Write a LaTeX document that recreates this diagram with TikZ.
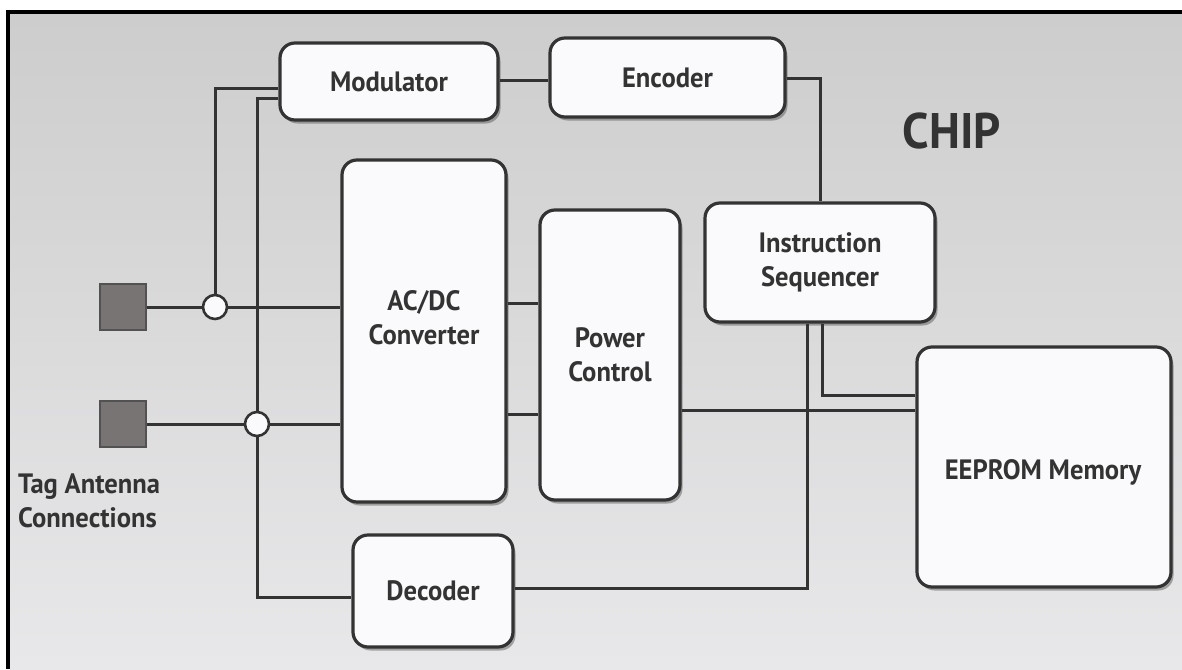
\documentclass[tikz,border=0pt]{standalone}
\usepackage{fontspec}
\setmainfont{PT Sans}[FakeStretch=0.95]
\usetikzlibrary{shadows}
\definecolor{bgtop}{HTML}{CDCDCD}
\definecolor{bgbot}{HTML}{E8E8EA}
\definecolor{ink}{HTML}{333333}
\definecolor{boxfill}{HTML}{FAFAFC}
\definecolor{padfill}{HTML}{787474}
\newcommand\labelfont{\fontsize{28}{34}\selectfont\bfseries}
\newcommand\chipfont{\fontsize{50}{54}\selectfont\bfseries}
\begin{document}
\begin{tikzpicture}[x=1pt,y=-1pt,
  blk/.style={rectangle, draw=ink, line width=3.2pt, fill=boxfill, rounded corners=15pt,
    inner sep=0pt, align=center, text=ink, font=\labelfont,
    drop shadow={shadow xshift=2.5pt, shadow yshift=-3.5pt, opacity=0.45, fill=black!70}},
  wire/.style={draw=ink, line width=3pt},
  pad/.style={rectangle, draw=ink!85, line width=1.8pt, fill=padfill, minimum size=46pt, inner sep=0pt},
  junc/.style={circle, draw=ink, line width=2.6pt, fill=boxfill, minimum size=24pt, inner sep=0pt},
  lbl/.style={text=ink, font=\labelfont, align=center, inner sep=0pt}]
% canvas
\fill[white] (0,0) rectangle (1182,669);
\useasboundingbox (0,0) rectangle (1182,669);
\shade[top color=bgtop, bottom color=bgbot] (10,14) rectangle (1182,669);
\fill[black] (6,10) rectangle (1182,14);
\fill[black] (6,10) rectangle (10,669);
% blocks
\node[blk, minimum width=218pt, minimum height=77pt] (mod) at (389,81.5) {Modulator};
\node[blk, minimum width=235pt, minimum height=79pt] (enc) at (667.5,77.5) {Encoder};
\node[blk, minimum width=164pt, minimum height=342pt] (acdc) at (424,331) {};
\node[lbl] (acdctxt) at (424,318) {AC/DC\\Converter};
\node[blk, minimum width=140pt, minimum height=290pt] (pc) at (610,355) {Power\\Control};
\node[blk, minimum width=230pt, minimum height=119pt] (is) at (820,262.5) {Instruction\\Sequencer};
\node[blk, minimum width=254pt, minimum height=240pt] (eep) at (1044,467) {};
\node[lbl] (eeptxt) at (1043,472) {EEPROM Memory};
\node[blk, minimum width=160pt, minimum height=112pt] (dec) at (433,591) {Decoder};
% antenna pads and junctions
\node[pad] (sq1) at (123,307) {};
\node[pad] (sq2) at (123,424) {};
\node[junc] (c1) at (215,307) {};
\node[junc] (c2) at (257,424) {};
% labels
\node[text=ink, font=\chipfont, inner sep=0pt] (chip) at (952,131) {CHIP};
\node[text=ink, font=\labelfont, align=left, anchor=north west, inner sep=0pt] (tag) at (18,474) {Tag Antenna\\Connections};
% wires
\draw[wire] (sq1.east) -- (c1.west);
\draw[wire] (c1.east) -- (acdc.west |- c1.east);
\draw[wire] (c1.north) |- (mod.west |- 0,88);
\draw[wire] (mod.west |- 0,98) -| (c2.north);
\draw[wire] (c2.south) |- (dec.west |- 0,597);
\draw[wire] (sq2.east) -- (c2.west);
\draw[wire] (c2.east) -- (acdc.west |- c2.east);
\draw[wire] (acdc.east |- 0,303) -- (pc.west |- 0,303);
\draw[wire] (acdc.east |- 0,414) -- (pc.west |- 0,414);
\draw[wire] (mod.east |- 0,80) -- (enc.west |- 0,80);
\draw[wire] (enc.east |- 0,78) -| (is.north);
\draw[wire] (822,0 |- is.south) |- (eep.west |- 0,395);
\draw[wire] (807,0 |- is.south) |- (dec.east |- 0,588);
\draw[wire] (pc.east |- 0,410) -- (eep.west |- 0,410);
\end{tikzpicture}
\end{document}
